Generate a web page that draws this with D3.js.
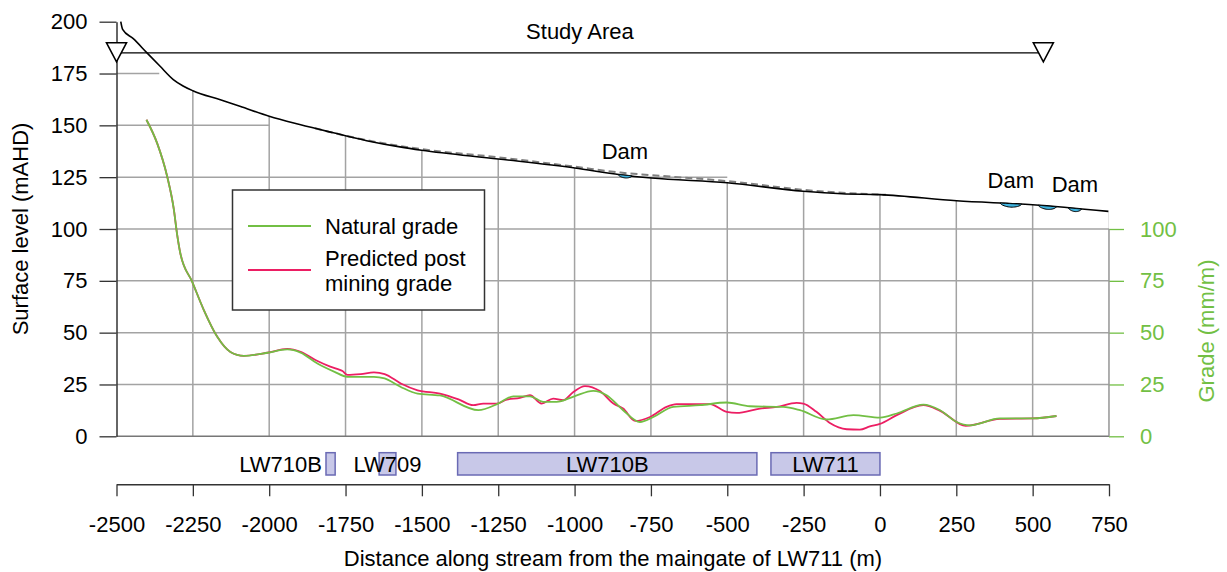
<!DOCTYPE html>
<html><head><meta charset="utf-8">
<script src="https://cdn.jsdelivr.net/npm/d3@7"></script>
<style>
html,body{margin:0;padding:0;background:#fff;}
svg text{font-family:Arial,"Liberation Sans",sans-serif;font-size:22px;}
</style></head><body>
<svg id="chart" width="1227" height="572"></svg>
<script>
// Post-mining surface level along the stream: [distance (m), level (mAHD)]
const surfaceProfile = [[-2486,200],[-2480,196.3],[-2445,191.8],[-2401,185.1],[-2358,178.6],[-2314,172.1],[-2282,169.0],[-2250,166.7],[-2160,162.3],[-2096,159.2],[-2000,154.4],[-1900,150.4],[-1790,146.4],[-1681,142.6],[-1572,139.6],[-1501,138.0],[-1250,133.8],[-999,129.4],[-851,126.2],[-748,124.6],[-500,122.3],[-251,118.2],[-125,117.0],[0,116.6],[251,113.6],[500,111.7],[748,108.5]];
// Pre-mining surface where it departs from the post-mining profile
const naturalSurface = [[-1850,148.6],[-1700,143.4],[-1500,138.5],[-1250,134.6],[-1000,130.1],[-850,127.2],[-750,126.0],[-500,123.1],[-250,118.9],[-140,117.6],[-40,116.9],[20,116.5]];
// Stream grade (mm/m)
const naturalGrade = [[-2402,152.7],[-2367,141.4],[-2334,125.3],[-2312,109.2],[-2302,97.9],[-2291,88.3],[-2252,74.5],[-2214,60.9],[-2170,48.0],[-2127,40.7],[-2083,38.8],[-2006,40.3],[-1941,41.9],[-1897,40.4],[-1842,35.1],[-1786,31.1],[-1744,28.7],[-1657,28.7],[-1622,27.9],[-1569,23.8],[-1514,20.6],[-1441,19.7],[-1315,12.6],[-1250,15.8],[-1201,19.3],[-1146,19.3],[-1102,16.6],[-1059,16.6],[-1001,19.3],[-939,21.9],[-895,19.8],[-841,12.6],[-786,6.9],[-742,9.3],[-677,14.2],[-589,15.0],[-502,16.3],[-426,14.5],[-317,14.2],[-262,12.6],[-175,8.1],[-87,10.2],[0,9.0],[55,11.0],[142,15.3],[197,12.6],[251,6.9],[295,5.3],[393,8.6],[500,8.6],[578,9.8]];
const predictedGrade = [[-2402,152.7],[-2367,141.4],[-2334,125.3],[-2312,109.2],[-2302,97.9],[-2291,88.3],[-2252,74.5],[-2214,60.9],[-2170,48.0],[-2127,40.7],[-2083,38.8],[-2006,40.3],[-1941,42.2],[-1897,40.8],[-1842,36.3],[-1800,33.6],[-1775,32.4],[-1760,31.5],[-1744,29.6],[-1700,30.0],[-1657,30.8],[-1622,30.0],[-1569,25.5],[-1514,22.2],[-1441,20.6],[-1380,17.8],[-1332,15.0],[-1299,15.8],[-1255,15.8],[-1222,17.7],[-1179,18.5],[-1146,19.8],[-1108,15.8],[-1070,18.2],[-1037,17.4],[-1004,21.4],[-966,24.2],[-917,21.8],[-873,15.8],[-841,13.4],[-802,7.4],[-753,9.3],[-699,14.2],[-666,15.5],[-589,15.5],[-557,15.5],[-502,11.8],[-469,11.3],[-393,13.4],[-338,14.2],[-273,16.1],[-251,15.8],[-208,11.8],[-164,6.4],[-109,3.4],[-66,3.2],[-33,4.8],[0,6.0],[55,10.2],[142,15.0],[197,12.3],[281,5.0],[393,8.4],[500,8.6],[578,9.8]];
// Dams on the stream: start (m), end (m), pond depth (m), labelled
const damStart = [-858, 393, 518, 617];
const damEnd = [-812, 464, 578, 660];
const damDepth = [1.3, 1.7, 1.6, 1.5];
const damLabelled = [true, true, false, true];
// Longwall panels beneath the stream
const panelNames = ["LW710B", "LW709", "LW710B", "LW711"];
const panelStart = [-1814, -1640, -1383, -357];
const panelEnd = [-1784, -1585, -403, 0];
// Study area extent and marker level
const studyArea = [-2500, 535];
const studyLevel = 185;
// Axis ticks
const xTicks = d3.range(-2500, 751, 250);
const xMinor = d3.range(-2500, 751, 50);
const levelTicks = d3.range(0, 201, 25);
const levelMinor = d3.range(0, 201, 5);
const gradeTicks = [0, 25, 50, 75, 100];
const gradeMinor = d3.range(0, 100.1, 6.25);
// Grid: vertical lines run up to the ground; level lines stop at the given distance
const gridX = d3.range(-2250, 751, 250);
const gridLevels = [25, 50, 75, 100, 125, 150, 175];
const gridLevelEnd = [750, 750, 750, 750, -500, -2000, -2360];

const GREEN = "#72bf44", RED = "#ec1e63", GRID = "#a3a3a3";
const svg = d3.select("#chart");
const x = d3.scaleLinear().domain([-2500, 750]).range([116.5, 1109]);
const y = d3.scaleLinear().domain([0, 200]).range([436.3, 21.7]);
const yGrade = d3.scaleLinear().domain([0, 100]).range([y(0), y(100)]);

const surfaceLine = d3.line().x(d => x(d[0])).y(d => y(d[1])).curve(d3.curveMonotoneX);
const gradeLine = d3.line().x(d => x(d[0])).y(d => yGrade(d[1])).curve(d3.curveMonotoneX);

// Region beneath the ground surface
const clipData = [[-2500, 200], ...surfaceProfile];
svg.append("clipPath").attr("id", "underground")
  .append("path")
  .attr("d", d3.area().x(d => x(d[0])).y0(y(0)).y1(d => y(d[1])).curve(d3.curveMonotoneX)(clipData));

const grid = svg.append("g").attr("stroke", GRID).attr("stroke-width", 1.5);
grid.append("g").attr("clip-path", "url(#underground)")
  .selectAll("line").data(gridX).join("line")
  .attr("x1", d => x(d)).attr("x2", d => x(d)).attr("y1", y(0)).attr("y2", y(200));
grid.selectAll(".gy").data(gridLevels).join("line")
  .attr("x1", x(-2500)).attr("x2", (d, i) => x(gridLevelEnd[i])).attr("y1", d => y(d)).attr("y2", d => y(d));

// Base line at zero
svg.append("line").attr("x1", x(-2500)).attr("x2", x(750)).attr("y1", y(0)).attr("y2", y(0))
  .attr("stroke", "#777").attr("stroke-width", 1.5);

// Left axis (surface level)
const leftAxis = svg.append("g").attr("transform", `translate(${x(-2500)},0)`);
leftAxis.call(d3.axisLeft(y).tickValues(levelMinor).tickSize(7).tickFormat(""));
leftAxis.call(d3.axisLeft(y).tickValues(levelTicks).tickSize(17).tickSizeOuter(0).tickPadding(12).tickFormat(d => String(d)));
leftAxis.selectAll("path.domain").attr("stroke", "#333").attr("stroke-width", 1.5);
leftAxis.selectAll("line").attr("stroke", "#333").attr("stroke-width", 1.3);
leftAxis.selectAll("text").attr("font-size", 22).attr("fill", "#000").attr("font-family", "Arial, Liberation Sans, sans-serif");

// Right axis (grade)
const rightAxis = svg.append("g").attr("transform", `translate(${x(750)},0)`);
rightAxis.call(d3.axisRight(yGrade).tickValues(gradeMinor).tickSize(7).tickFormat(""));
rightAxis.call(d3.axisRight(yGrade).tickValues(gradeTicks).tickSize(15).tickSizeOuter(0).tickPadding(16).tickFormat(d => String(d)));
rightAxis.selectAll("path.domain").remove();
rightAxis.selectAll("line").attr("stroke", GREEN).attr("stroke-width", 1.3);
rightAxis.selectAll("text").attr("font-size", 22).attr("fill", GREEN).attr("font-family", "Arial, Liberation Sans, sans-serif");
svg.append("line").attr("x1", x(750)).attr("x2", x(750)).attr("y1", y(0)).attr("y2", yGrade(100))
  .attr("stroke", "#999").attr("stroke-width", 1.5);

// Pre-mining surface (dashed) and post-mining surface
svg.append("path").attr("d", surfaceLine(naturalSurface)).attr("fill", "none")
  .attr("stroke", "#808080").attr("stroke-width", 2).attr("stroke-dasharray", "7,4");
svg.append("path").attr("d", surfaceLine(surfaceProfile)).attr("fill", "none")
  .attr("stroke", "#000").attr("stroke-width", 1.6);

// Dams drawn as shallow ponds under the surface line
const surfaceAt = d3.scaleLinear().domain(surfaceProfile.map(d => d[0])).range(surfaceProfile.map(d => d[1]));
damStart.forEach((a, i) => {
  const b = damEnd[i], n = 16;
  const top = d3.range(n + 1).map(k => a + (b - a) * k / n);
  const pts = top.map(d => [d, surfaceAt(d)]);
  const bottom = top.map((d, k) => [d, surfaceAt(d) - damDepth[i] * Math.pow(Math.sin(Math.PI * k / n), 0.6)]).reverse();
  svg.append("path")
    .attr("d", d3.line().x(d => x(d[0])).y(d => y(d[1])).curve(d3.curveLinearClosed)(pts.concat(bottom)))
    .attr("fill", "#3fb4e0").attr("stroke", "#000").attr("stroke-width", 1);
  if (damLabelled[i]) {
    const c = (a + b) / 2;
    svg.append("text").attr("x", x(c)).attr("y", y(surfaceAt(c)) - 16)
      .attr("text-anchor", "middle").text("Dam");
  }
});

// Grade lines
svg.append("path").attr("d", gradeLine(predictedGrade)).attr("fill", "none")
  .attr("stroke", RED).attr("stroke-width", 1.8);
svg.append("path").attr("d", gradeLine(naturalGrade)).attr("fill", "none")
  .attr("stroke", GREEN).attr("stroke-width", 1.8);

// Study area marker
const ya = y(studyLevel);
svg.append("line").attr("x1", x(studyArea[0])).attr("x2", x(studyArea[1])).attr("y1", ya).attr("y2", ya)
  .attr("stroke", "#000").attr("stroke-width", 1.2);
studyArea.forEach(d => {
  const cx = x(d);
  svg.append("path").attr("d", `M${cx - 10},${ya - 10}L${cx + 10},${ya - 10}L${cx},${ya + 9}Z`)
    .attr("fill", "#fff").attr("stroke", "#000").attr("stroke-width", 1.6);
});
svg.append("text").attr("x", x((studyArea[0] + studyArea[1]) / 2)).attr("y", ya - 14)
  .attr("text-anchor", "middle").text("Study Area");

// Legend
const lg = svg.append("g");
lg.append("rect").attr("x", 232.5).attr("y", 190).attr("width", 252).attr("height", 120)
  .attr("fill", "#fff").attr("stroke", "#333").attr("stroke-width", 1.5);
lg.append("line").attr("x1", 248).attr("x2", 311).attr("y1", 226).attr("y2", 226).attr("stroke", GREEN).attr("stroke-width", 1.8);
lg.append("line").attr("x1", 248).attr("x2", 311).attr("y1", 270).attr("y2", 270).attr("stroke", RED).attr("stroke-width", 1.8);
lg.append("text").attr("x", 325).attr("y", 234).text("Natural grade");
lg.append("text").attr("x", 325).attr("y", 266).text("Predicted post");
lg.append("text").attr("x", 325).attr("y", 291).text("mining grade");

// Longwall panels
const py0 = 452.7, py1 = 475;
panelNames.forEach((name, i) => {
  const x0 = x(panelStart[i]), x1 = x(panelEnd[i]);
  svg.append("rect").attr("x", x0).attr("y", py0).attr("width", x1 - x0).attr("height", py1 - py0)
    .attr("fill", "#c8c8e8").attr("stroke", "#6a6ab4").attr("stroke-width", 1.5);
});
panelNames.forEach((name, i) => {
  const x0 = x(panelStart[i]), x1 = x(panelEnd[i]);
  const small = (x1 - x0) < 15;
  svg.append("text").attr("x", small ? x0 - 4 : (x0 + x1) / 2).attr("y", 472)
    .attr("text-anchor", small ? "end" : "middle").text(name);
});

// Distance axis
const bottom = svg.append("g").attr("transform", "translate(0,484.3)");
bottom.call(d3.axisBottom(x).tickValues(xMinor).tickSize(8).tickSizeOuter(0).tickFormat(""));
bottom.call(d3.axisBottom(x).tickValues(xTicks).tickSize(12).tickSizeOuter(0).tickPadding(20).tickFormat(d => String(d)));
bottom.selectAll("path.domain").attr("stroke", "#333").attr("stroke-width", 1.5);
bottom.selectAll("line").attr("stroke", "#333").attr("stroke-width", 1.3);
bottom.selectAll("text").attr("font-size", 22).attr("fill", "#000").attr("font-family", "Arial, Liberation Sans, sans-serif");

// Axis titles
svg.append("text").attr("transform", `translate(28,${y(100)}) rotate(-90)`)
  .attr("text-anchor", "middle").text("Surface level (mAHD)");
svg.append("text").attr("transform", `translate(1214,331) rotate(-90)`)
  .attr("text-anchor", "middle").attr("fill", GREEN).text("Grade (mm/m)");
svg.append("text").attr("x", 613).attr("y", 566).attr("text-anchor", "middle")
  .text("Distance along stream from the maingate of LW711 (m)");
</script>
</body></html>
